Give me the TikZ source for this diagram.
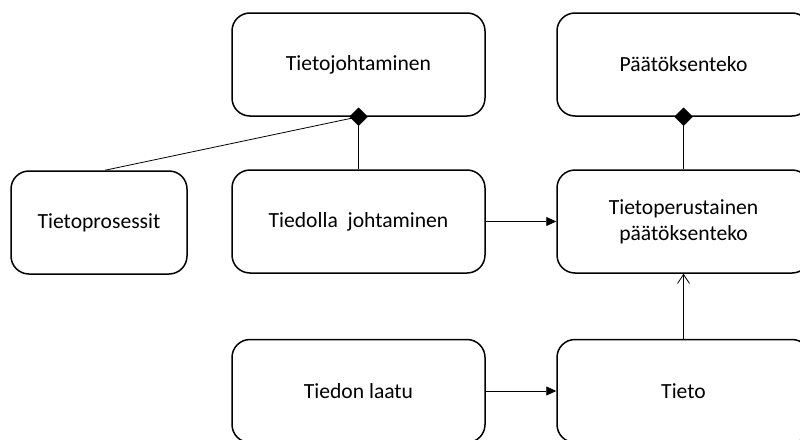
\documentclass[tikz,border=0pt]{standalone}
\usepackage{fontspec}
\setmainfont{Carlito}
\usetikzlibrary{arrows.meta,shapes.geometric}
\begin{document}
\begin{tikzpicture}[x=1pt,y=1pt,
  box/.style={draw=black,line width=1.5pt,rounded corners=18pt,minimum width=253pt,minimum height=103pt,align=center,font=\fontsize{21.6}{26}\selectfont,inner sep=0pt},
  link/.style={draw=black,line width=0.8pt},
  agg/.style={diamond,fill=black,draw=black,line width=0.5pt,minimum width=18pt,minimum height=18pt,inner sep=0pt},
  solidtip/.style={-{Triangle[length=10pt,width=9pt]}},
  opentip/.style={-{Straight Barb[length=9pt,width=12pt,line width=0.8pt]}}]
\useasboundingbox (0,0) rectangle (800,-439);
% boxes
\node[box] (tj)  at (358.5,-64.5)  {Tietojohtaminen};
\node[box] (pk)  at (683.5,-64.5)  {Päätöksenteko};
\node[box,minimum width=176pt] (tp) at (99,-222.5) {Tietoprosessit};
\node[box] (tdj) at (358.5,-221.5) {Tiedolla\ \ johtaminen};
\node[box] (tpp) at (683.5,-221.5) {Tietoperustainen\\päätöksenteko};
\node[box] (tl)  at (358.5,-391)   {Tiedon laatu};
\node[box] (t)   at (683.5,-391)   {Tieto};
% aggregation diamonds on the lower edges
\coordinate (dj) at (tj.south);
\coordinate (dp) at (pk.south);
% connectors
\draw[link] ([xshift=6pt]tp.north) -- (dj);
\draw[link] (tdj.north) -- (dj);
\draw[link] (tpp.north) -- (dp);
\draw[link,solidtip] (tdj.east) -- (tpp.west);
\draw[link,solidtip] (tl.east) -- (t.west);
\draw[link,opentip] (t.north) -- (tpp.south);
\node[agg] (djd) at (dj) {};
\node[agg] (dpd) at (dp) {};
\end{tikzpicture}
\end{document}
